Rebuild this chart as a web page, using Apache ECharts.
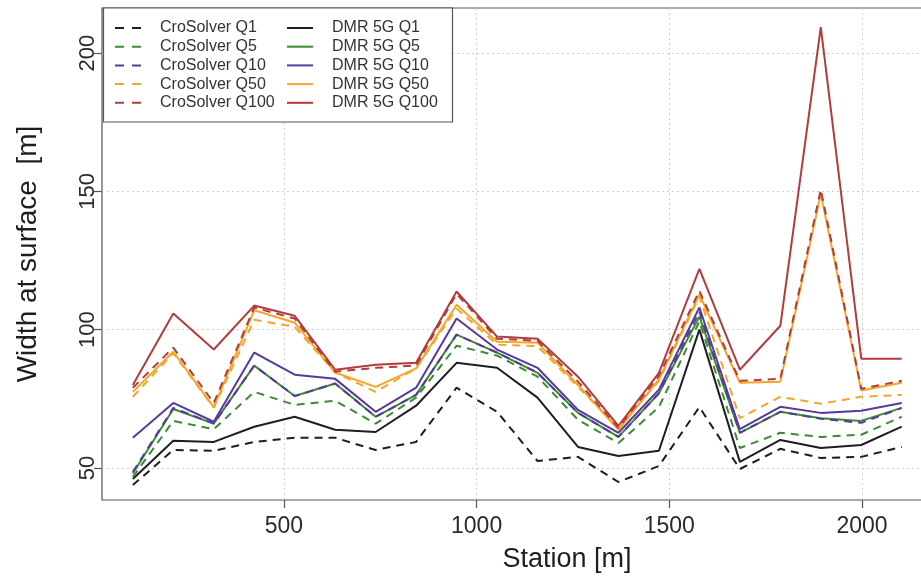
<!DOCTYPE html>
<html>
<head>
<meta charset="utf-8">
<script src="https://cdn.jsdelivr.net/npm/echarts@6/dist/echarts.min.js"></script>
<style>html,body{margin:0;padding:0;background:#fff;}#c{width:921px;height:578px;}</style>
</head>
<body>
<div id="c"></div>
<script>
var stations = [108, 213, 318, 423, 528, 633, 738, 843, 948, 1053, 1158, 1263, 1368, 1473, 1578, 1683, 1788, 1893, 1998, 2103];
var xTicks = [500, 1000, 1500, 2000];
var yTicks = [50, 100, 150, 200];

var croQ1   = [43.8, 56.5, 56.2, 59.4, 60.9, 60.9, 56.5, 59.4, 79.0, 70.3, 52.5, 54.0, 44.9, 50.7, 72.0, 49.6, 56.9, 53.6, 54.0, 57.6];
var croQ5   = [46.7, 67.0, 64.0, 77.5, 72.8, 74.3, 66.0, 75.4, 94.2, 90.6, 83.0, 67.4, 59.0, 72.0, 103.0, 57.2, 62.7, 61.2, 62.0, 68.5];
var croQ10  = [48.5, 71.7, 66.0, 87.0, 76.0, 80.5, 68.5, 76.4, 98.2, 91.7, 84.4, 69.9, 61.2, 77.0, 106.5, 62.7, 70.3, 67.8, 66.3, 71.7];
var croQ50  = [75.7, 91.5, 71.7, 103.6, 101.0, 84.5, 77.5, 86.0, 107.6, 94.6, 94.0, 79.3, 64.5, 81.5, 112.0, 68.0, 75.7, 73.2, 75.7, 76.4];
var croQ100 = [79.0, 93.5, 73.5, 108.0, 104.0, 84.8, 86.2, 87.0, 113.0, 96.7, 96.0, 81.2, 64.5, 83.3, 114.0, 81.5, 82.2, 150.7, 78.6, 81.5];

var dmrQ1   = [46.0, 59.8, 59.4, 64.9, 68.5, 63.8, 63.0, 72.5, 88.0, 86.2, 75.4, 57.6, 54.3, 56.2, 100.0, 52.2, 60.1, 57.2, 58.3, 64.9];
var dmrQ5   = [48.0, 71.3, 66.0, 87.0, 76.0, 80.5, 68.5, 76.4, 98.2, 91.7, 84.4, 69.9, 61.2, 77.0, 104.7, 62.7, 70.3, 68.0, 67.0, 71.7];
var dmrQ10  = [60.9, 73.5, 66.7, 91.7, 83.7, 82.2, 70.3, 79.0, 104.0, 92.8, 86.2, 71.0, 62.7, 78.3, 108.0, 64.0, 72.1, 69.9, 70.7, 73.5];
var dmrQ50  = [77.5, 92.0, 72.0, 107.0, 102.5, 84.5, 79.3, 86.0, 109.0, 95.6, 95.3, 80.0, 63.8, 82.0, 112.7, 80.8, 81.2, 149.0, 78.0, 80.8];
var dmrQ100 = [80.0, 105.8, 92.8, 108.7, 105.0, 85.5, 87.3, 88.0, 113.8, 97.5, 96.7, 83.0, 65.2, 84.4, 122.0, 85.5, 101.4, 209.4, 89.5, 89.5];

var colors = ['#1e1e1e', '#3c8a33', '#563a9c', '#f6a52a', '#b23c3c'];
var croNames = ['CroSolver Q1', 'CroSolver Q5', 'CroSolver Q10', 'CroSolver Q50', 'CroSolver Q100'];
var dmrNames = ['DMR 5G Q1', 'DMR 5G Q5', 'DMR 5G Q10', 'DMR 5G Q50', 'DMR 5G Q100'];
var croData = [croQ1, croQ5, croQ10, croQ50, croQ100];
var dmrData = [dmrQ1, dmrQ5, dmrQ10, dmrQ50, dmrQ100];

function pairs(vals) {
  return stations.map(function (s, i) { return [s, vals[i]]; });
}

var series = [];
dmrData.forEach(function (d, i) {
  series.push({
    name: dmrNames[i], type: 'line', data: pairs(d), symbol: 'none', z: 2,
    lineStyle: { color: colors[i], width: 2, type: 'solid' },
    itemStyle: { color: colors[i] }
  });
});
croData.forEach(function (d, i) {
  series.push({
    name: croNames[i], type: 'line', data: pairs(d), symbol: 'none', z: 3,
    lineStyle: { color: colors[i], width: 2, type: [8, 6] },
    itemStyle: { color: colors[i] }
  });
});

var sans = "'Liberation Sans', Arial, Helvetica, sans-serif";
var dashIcon = 'path://M0,0h9v2h-9z M17,0h9v2h-9z';
var solidIcon = 'path://M0,0h26v2h-26z';

function makeLegend(left, names, icon) {
  return {
    orient: 'vertical', left: left, top: 20, itemWidth: 26, itemHeight: 2, itemGap: 2.7,
    selectedMode: false, z: 20, padding: 0,
    itemStyle: { borderWidth: 0 },
    data: names.map(function (n) { return { name: n, icon: icon }; }),
    textStyle: { fontFamily: sans, fontSize: 16, color: '#333', padding: [0, 0, 0, 14] }
  };
}

var chart = echarts.init(document.getElementById('c'), null, { renderer: 'canvas' });
chart.setOption({
  animation: false,
  backgroundColor: '#fff',
  grid: { left: 102, top: 8, width: 930, height: 492, outerBoundsMode: 'none', containLabel: false, show: true, borderColor: '#555', borderWidth: 1.2, backgroundColor: 'transparent' },
  graphic: [{
    type: 'rect', z: 10, shape: { x: 103.5, y: 8, width: 349, height: 114 },
    style: { fill: '#fff', stroke: '#555', lineWidth: 1.2 }
  }],
  legend: [makeLegend(115, croNames, dashIcon), makeLegend(287, dmrNames, solidIcon)],
  xAxis: {
    type: 'value', min: 28, max: 2441,
    axisLine: { show: false },
    axisTick: { show: true, customValues: xTicks, length: 8, lineStyle: { color: '#555', width: 1.2 } },
    axisLabel: { customValues: xTicks, formatter: function (v) { return String(v); }, fontFamily: sans, fontSize: 23, color: '#2a2a2a', margin: 15 },
    splitLine: { show: true, lineStyle: { color: '#cfcfcf', type: [2, 3], width: 1 } },
    name: 'Station [m]', nameLocation: 'middle', nameGap: 46,
    nameTextStyle: { fontFamily: sans, fontSize: 27, color: '#1e1e1e' }
  },
  yAxis: {
    type: 'value', min: 38.4, max: 216.3,
    axisLine: { show: false },
    axisTick: { show: true, customValues: yTicks, length: 8, lineStyle: { color: '#555', width: 1.2 } },
    axisLabel: { customValues: yTicks, formatter: function (v) { return String(v); }, rotate: 90, fontFamily: sans, fontSize: 22, color: '#2a2a2a', margin: 3 },
    splitLine: { show: true, lineStyle: { color: '#cfcfcf', type: [2, 3], width: 1 } },
    name: 'Width at surface  [m]', nameLocation: 'middle', nameGap: 60, nameRotate: 90,
    nameTextStyle: { fontFamily: sans, fontSize: 28, color: '#1e1e1e' }
  },
  series: series
});
</script>
</body>
</html>
